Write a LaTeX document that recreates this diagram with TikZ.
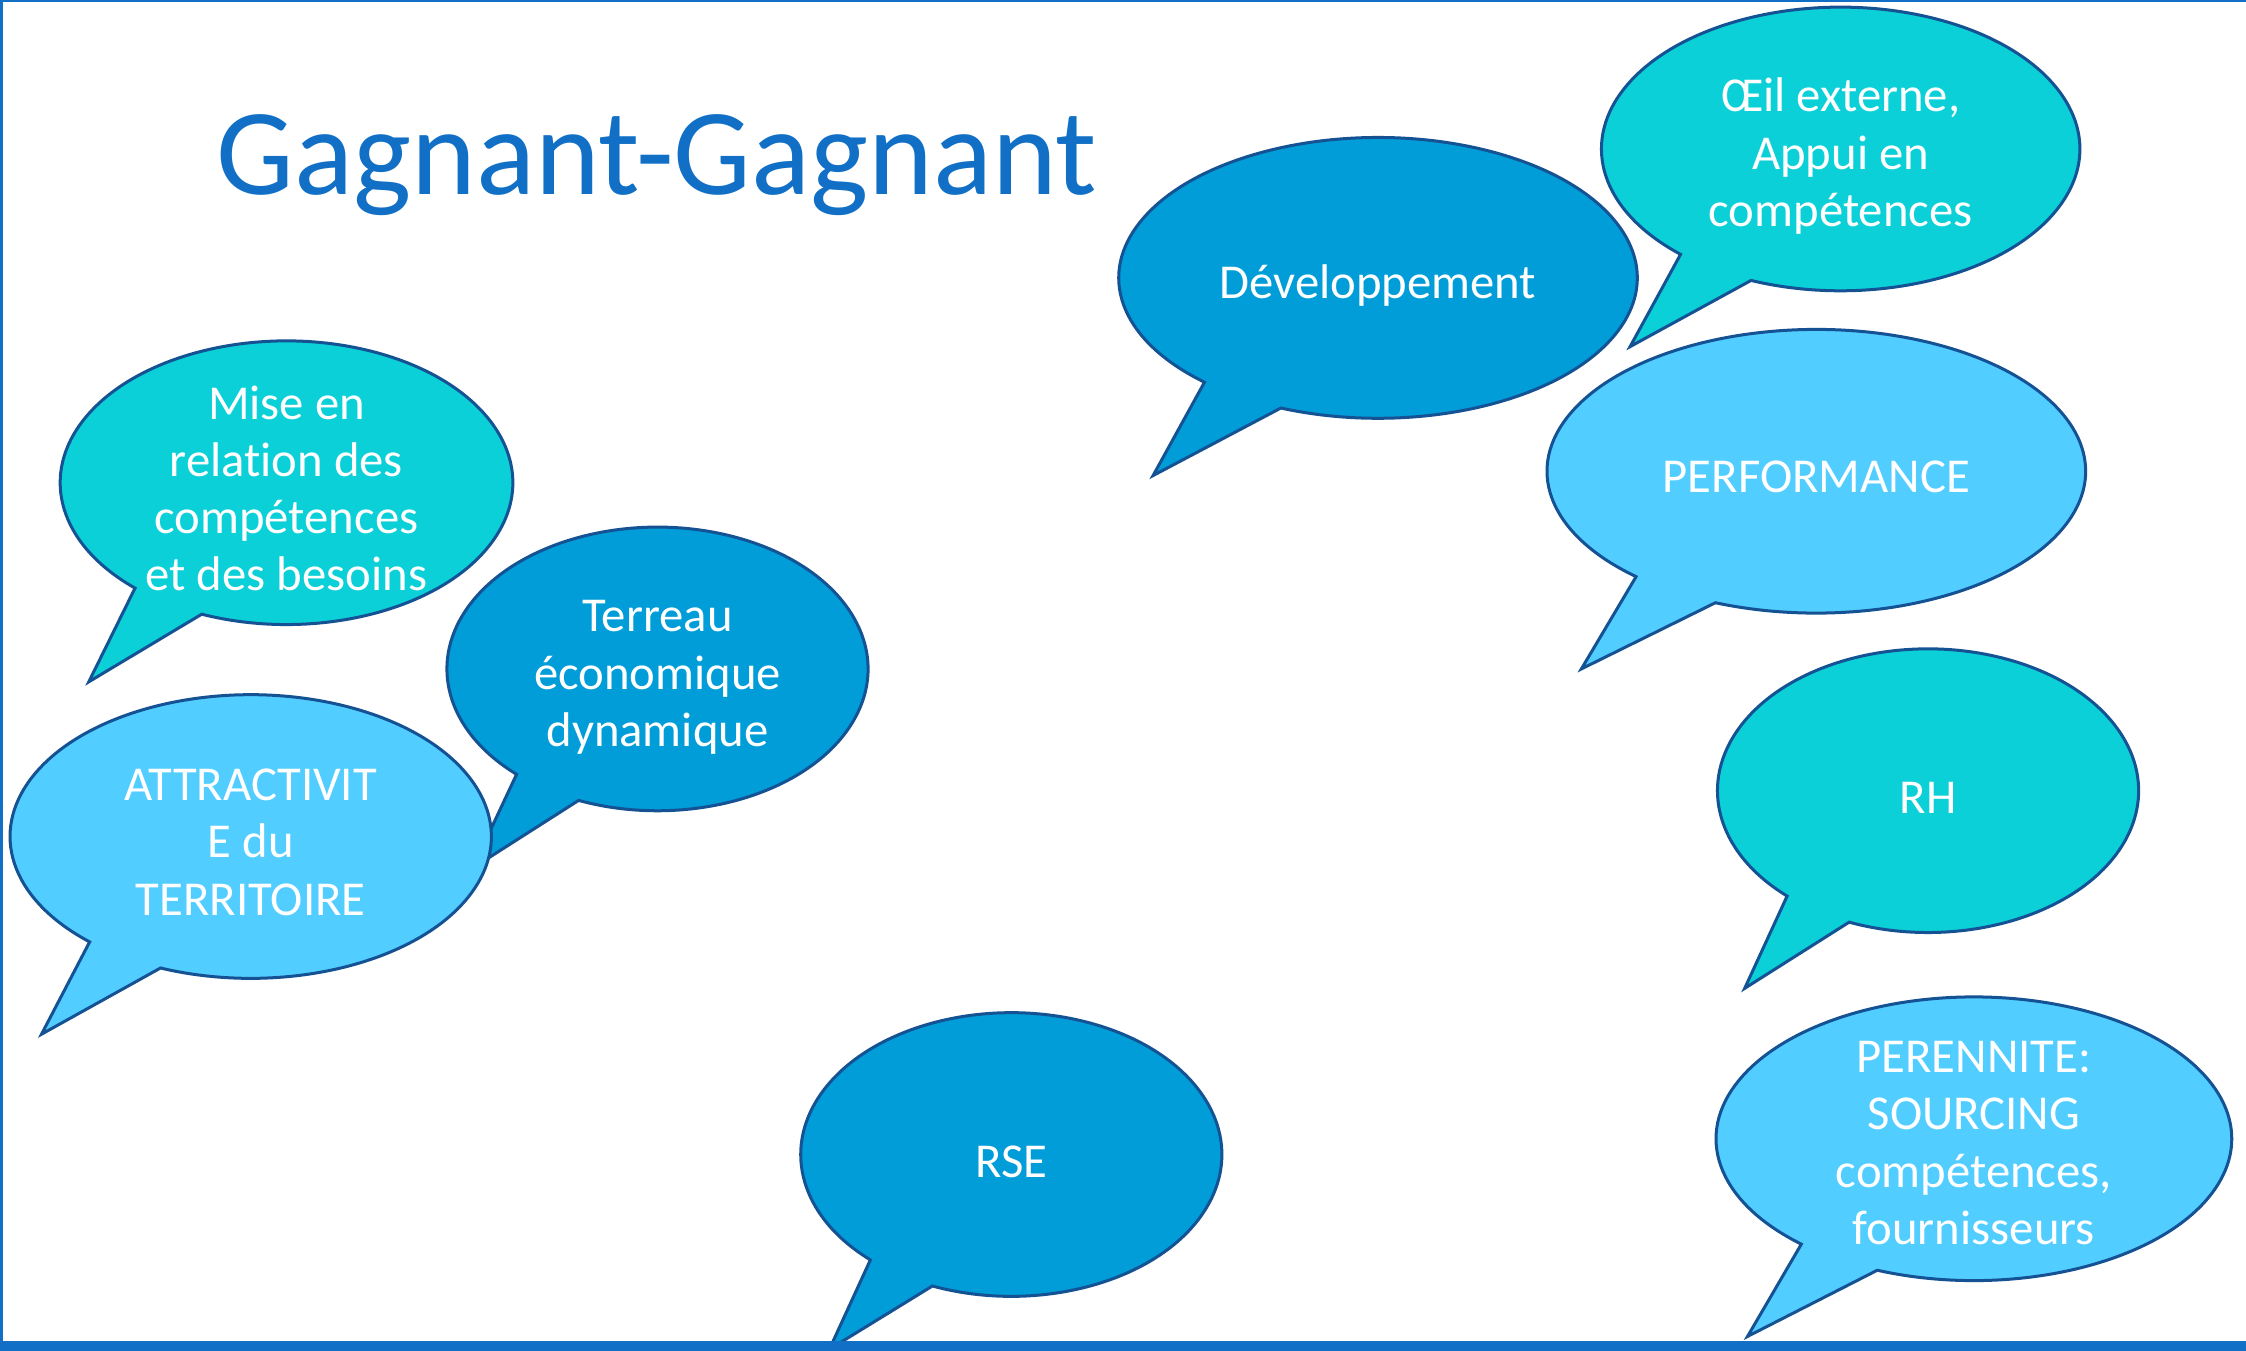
\documentclass[tikz,border=0pt]{standalone}
\usepackage{fontspec}
\setmainfont{Carlito}[Ligatures=NoCommon]
\definecolor{darkfill}{RGB}{0,157,216}
\definecolor{turq}{RGB}{12,208,216}
\definecolor{lightfill}{RGB}{82,205,255}
\definecolor{outline}{RGB}{20,82,148}
\definecolor{titleblue}{RGB}{17,112,198}
\tikzset{
  bubbleline/.style={draw=outline, line width=2.1pt, line join=miter},
  bubbletext/.style={text=white, align=center, inner sep=0pt, font=\fontsize{34}{40}\selectfont},
  titletext/.style={text=titleblue, inner sep=0pt, font=\fontsize{86}{90}\selectfont},
}
% #1 cx, #2 cy, #3 rx, #4 ry, #5 tip coordinate name, #6 fill colour
\newcommand\speechbubble[6]{%
  \draw[bubbleline, fill=#6] ({#1+#3*cos(228)},{#2+#4*sin(228)}) -- (#5)
    -- ({#1+#3*cos(248)},{#2+#4*sin(248)})
    arc[start angle=248, end angle=588, x radius=#3, y radius=#4] -- cycle;
}
\begin{document}
\begin{tikzpicture}[x=1pt,y=1pt]
\useasboundingbox (0,0) rectangle (1568,943);
\fill[white] (0,0) rectangle (1568,943);

% title
\node[titletext, anchor=base west] (title) at (151,807) {Gagnant-Gagnant};

% tips
\coordinate (devtip) at (805,611);
\coordinate (oeiltip) at (1138,701);
\coordinate (perftip) at (1104,476);
\coordinate (rhtip) at (1218,253);
\coordinate (perentip) at (1220,10);
\coordinate (rsetip) at (579,1);
\coordinate (misetip) at (62,467);
\coordinate (terreautip) at (330,337);
\coordinate (attrtip) at (29,221);

% bubbles
\speechbubble{962}{749}{181}{98}{devtip}{darkfill}
\speechbubble{1285}{839}{167}{99}{oeiltip}{turq}
\speechbubble{1268}{614}{188}{99}{perftip}{lightfill}
\speechbubble{1346}{391}{147}{99}{rhtip}{turq}
\speechbubble{1378}{148}{180}{99}{perentip}{lightfill}
\speechbubble{706}{137}{147}{99}{rsetip}{darkfill}
\speechbubble{200}{606}{158}{99}{misetip}{turq}
\speechbubble{459}{476}{147}{99}{terreautip}{darkfill}
\speechbubble{175}{359}{168}{99}{attrtip}{lightfill}

% texts
\node[bubbletext] (dev) at (962,744) {Développement};
\node[bubbletext] (oeil) at (1285,834) {Œil externe,\\Appui en\\compétences};
\node[bubbletext] (perf) at (1268,610) {PERFORMANCE};
\node[bubbletext] (rh) at (1346,386) {RH};
\node[bubbletext] (peren) at (1378,145) {PERENNITE:\\SOURCING\\compétences,\\fournisseurs};
\node[bubbletext] (rse) at (706,132) {RSE};
\node[bubbletext] (mise) at (200,602) {Mise en\\relation des\\compétences\\et des besoins};
\node[bubbletext] (terreau) at (459,470) {Terreau\\économique\\dynamique};
\node[bubbletext] (attr) at (175,355) {ATTRACTIVIT\\E du\\TERRITOIRE};

% frame
\fill[titleblue] (0,941.5) rectangle (1568,943);
\fill[titleblue] (0,0) rectangle (2.2,943);
\fill[titleblue] (0,0) rectangle (1568,7);
\end{tikzpicture}
\end{document}
